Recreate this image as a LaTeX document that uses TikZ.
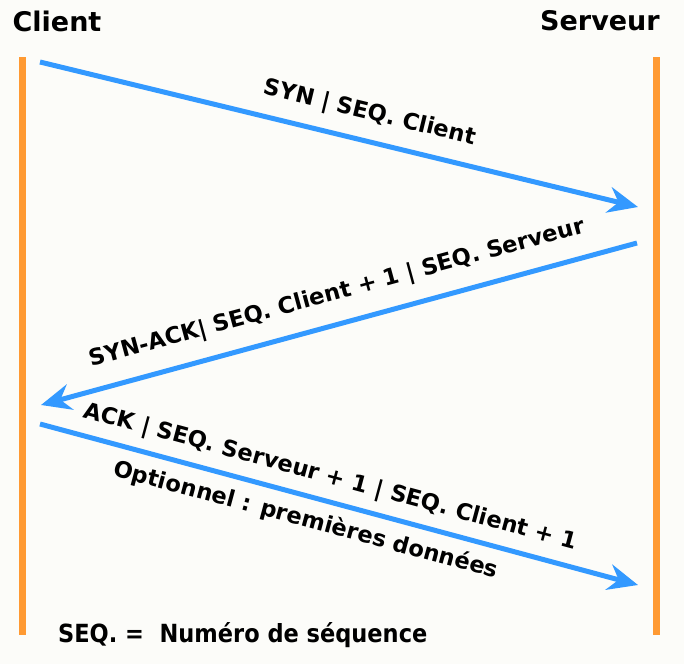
\documentclass[tikz,border=0pt]{standalone}
\usepackage{fontspec}
\setmainfont{DejaVu Sans}
\newfontfamily\condfont{DejaVu Sans Condensed}
\usetikzlibrary{arrows.meta}
\definecolor{lifeorange}{HTML}{FF9A33}
\definecolor{msgblue}{HTML}{3399FF}
\definecolor{paper}{HTML}{FCFCF9}
\tikzset{
    life-line/.style = {draw=lifeorange, line width=3.5pt},
    msg-arrow/.style = {draw=msgblue, line width=2.5pt, -{Stealth[length=15pt, width=13pt, inset=5pt]}},
    msg-label/.style = {font=\bfseries\fontsize{11.3}{12}\selectfont, sloped, inner sep=0pt},
    actor/.style = {font=\bfseries\fontsize{13.5}{16}\selectfont},
}

\begin{document}
\begin{tikzpicture}[x=0.5pt,y=-0.5pt]
\fill[paper] (0,0) rectangle (684,664);
\useasboundingbox (0,0) rectangle (684,664);

% actors and life lines
\node[actor] (client) at (57,21) {Client};
\node[actor] (serveur) at (600,21) {Serveur};
\coordinate (c-top) at (22,57);
\coordinate (c-bot) at (22,635);
\coordinate (s-top) at (656,57);
\coordinate (s-bot) at (656,635);
\draw[life-line] (c-top) -- (c-bot);
\draw[life-line] (s-top) -- (s-bot);

% messages
\coordinate (syn-a) at (40,62);
\coordinate (syn-b) at (638,207);
\coordinate (synack-a) at (637,243);
\coordinate (synack-b) at (41,405);
\coordinate (ack-a) at (40,424);
\coordinate (ack-b) at (638,585);
\draw[msg-arrow] (syn-a) -- node[msg-label, pos=0.54, above=7pt] {SYN | SEQ. Client} (syn-b);
\draw[msg-arrow] (synack-a) -- node[msg-label, pos=0.49, above=8pt] {SYN-ACK| SEQ. Client + 1 | SEQ. Serveur} (synack-b);
\draw[msg-arrow] (ack-a) -- node[msg-label, pos=0.475, above=5pt] {ACK | SEQ. Serveur + 1 | SEQ. Client + 1}
    node[msg-label, pos=0.455, below=5pt] {Optionnel : premières données} (ack-b);

% legend
\node[font=\condfont\bfseries\fontsize{12.5}{14}\selectfont, anchor=west] (legende) at (51,635) {SEQ. =\ \ Numéro de séquence};
\end{tikzpicture}
\end{document}
